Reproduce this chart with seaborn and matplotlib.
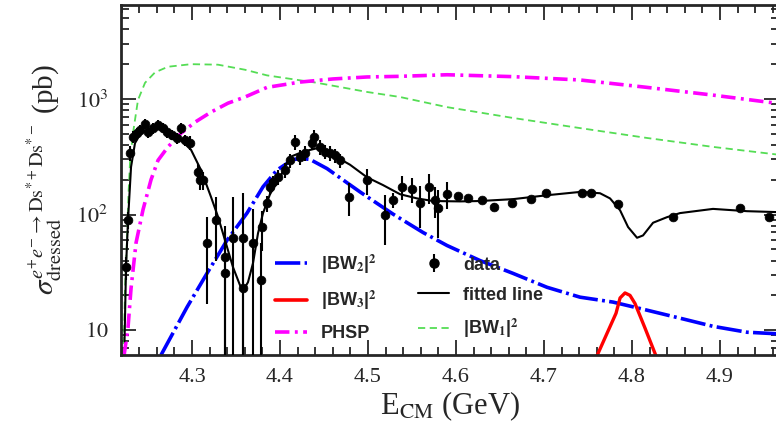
import numpy as np
import matplotlib
matplotlib.use("Agg")
import matplotlib.pyplot as plt
import seaborn as sns
from matplotlib.lines import Line2D
from matplotlib.ticker import MultipleLocator, FixedLocator, FixedFormatter

# data points (E in GeV, sigma in pb, asymmetric errors)
data_E = [4.2254, 4.2273, 4.2295, 4.2330, 4.2375, 4.2410, 4.2466, 4.2500, 4.2557, 4.2610,
          4.2670, 4.2716, 4.2770, 4.2830, 4.2875, 4.2920, 4.2977, 4.3070, 4.3090, 4.3125,
          4.3170, 4.3270, 4.3375, 4.3380, 4.3466, 4.3580, 4.3580, 4.3690, 4.3780, 4.3790,
          4.3850, 4.3890, 4.3920, 4.3980, 4.4057, 4.4110, 4.4170, 4.4227, 4.4280, 4.4360,
          4.4386, 4.4455, 4.4510, 4.4570, 4.4625, 4.4680, 4.4780, 4.4990, 4.5190, 4.5284,
          4.5390, 4.5500, 4.5590, 4.5690, 4.5760, 4.5800, 4.5900, 4.6020, 4.6140, 4.6300,
          4.6430, 4.6636, 4.6850, 4.7023, 4.7430, 4.7534, 4.7840, 4.8466, 4.9227, 4.9557]
data_sigma = [35, 90, 340, 470, 505, 540, 610, 515, 560, 595,
              560, 515, 490, 460, 560, 440, 420, 233, 198, 198,
              57, 90, 43, 31, 63, 63, 23, 57, 27, 78,
              126, 174, 192, 211, 243, 295, 425, 315, 340, 420,
              470, 385, 350, 340, 327, 295, 142, 198, 100, 133,
              174, 166, 126, 174, 133, 113, 151, 145, 138, 133,
              117, 126, 136, 153, 153, 153, 123, 95, 114, 95]
data_err_lo = [8, 15, 50, 55, 55, 60, 60, 55, 60, 60,
               55, 55, 50, 50, 60, 50, 60, 40, 35, 35,
               40, 50, 42, 30, 62, 62, 22, 56, 26, 30,
               20, 25, 25, 30, 35, 40, 60, 45, 50, 60,
               65, 55, 50, 50, 45, 40, 45, 50, 45, 20,
               40, 40, 50, 50, 40, 50, 40, 8, 8, 8,
               8, 8, 8, 8, 8, 8, 8, 6, 6, 6]
data_err_hi = [8, 15, 50, 55, 55, 60, 60, 55, 60, 60,
               55, 55, 50, 50, 60, 50, 60, 40, 35, 35,
               38, 52, 37, 40, 79, 90, 50, 55, 30, 30,
               20, 25, 25, 30, 35, 40, 60, 45, 50, 60,
               65, 55, 50, 50, 45, 40, 45, 50, 48, 20,
               40, 40, 50, 50, 40, 50, 40, 8, 8, 8,
               8, 8, 8, 8, 8, 8, 8, 6, 6, 6]

# fitted line
fit_E = [4.2233, 4.2250, 4.2273, 4.2307, 4.2352, 4.2420, 4.2534, 4.2648, 4.2761, 4.2875,
         4.2989, 4.3102, 4.3216, 4.3295, 4.3375, 4.3466, 4.3545, 4.3580, 4.3636, 4.3693,
         4.3750, 4.3807, 4.3886, 4.4000, 4.4114, 4.4261, 4.4420, 4.4602, 4.4795, 4.4989,
         4.5170, 4.5364, 4.5557, 4.5739, 4.6045, 4.6273, 4.6648, 4.7034, 4.7409, 4.7636,
         4.7750, 4.7864, 4.7955, 4.8057, 4.8125, 4.8239, 4.8398, 4.8545, 4.8920, 4.9307,
         4.9659]
fit_sigma = [8, 35, 90, 258, 415, 510, 560, 540, 490, 440,
             363, 243, 142, 96, 60, 35, 24.5, 22, 26, 38,
             69, 103, 150, 210, 315, 350, 375, 327, 270, 210,
             180, 150, 138, 131, 130, 131, 136, 147, 157, 153,
             138, 109, 78, 63, 66, 85, 95, 103, 112, 107,
             105]

# |BW1|^2
bw1_E = [4.2222, 4.2239, 4.2261, 4.2278, 4.2295, 4.2330, 4.2386, 4.2466, 4.2580, 4.2727,
         4.2989, 4.3295, 4.3602, 4.3852, 4.4420, 4.4989, 4.5364, 4.5898, 4.6648, 4.7409,
         4.8170, 4.8920, 4.9659]
bw1_sigma = [6, 23, 60, 150, 280, 510, 980, 1380, 1700, 1900,
             2000, 1980, 1790, 1600, 1380, 1150, 1040, 850, 685, 560,
             460, 385, 330]

# PHSP
phsp_E = [4.2227, 4.2273, 4.2307, 4.2364, 4.2443, 4.2534, 4.2614, 4.2727, 4.2875, 4.3034,
          4.3216, 4.3409, 4.3602, 4.3852, 4.4227, 4.4602, 4.4989, 4.5364, 4.5898, 4.6648,
          4.7409, 4.8170, 4.8920, 4.9659]
phsp_sigma = [6, 10.6, 23, 57, 110, 200, 295, 385, 505, 630,
              770, 920, 1040, 1260, 1400, 1490, 1550, 1570, 1620, 1560,
              1460, 1260, 1080, 915]

# |BW2|^2
bw2_E = [4.2648, 4.2943, 4.3170, 4.3398, 4.3625, 4.3807, 4.3966, 4.4148, 4.4261, 4.4341,
         4.4534, 4.4909, 4.5284, 4.5625, 4.5898, 4.6273, 4.6648, 4.7034, 4.7409, 4.7784,
         4.8170, 4.8545, 4.8920, 4.9307, 4.9659]
bw2_sigma = [6.1, 15.8, 31, 60, 103, 174, 243, 300, 305, 300,
             250, 157, 101, 70, 54, 40, 31, 23.5, 19.3, 17.5,
             14.9, 12.7, 10.8, 9.6, 9.3]

# |BW3|^2
bw3_E = [4.7580, 4.7614, 4.7716, 4.7818, 4.7864, 4.7920, 4.7977, 4.8034, 4.8148, 4.8261, 4.8290]
bw3_sigma = [5.5, 6.3, 9.4, 14, 19, 21, 20, 17, 10.4, 6.3, 5.5]

ytick_vals = [10, 100, 1000]
ytick_labels = [r'$10$', r'$10^2$', r'$10^3$']
xtick_vals = [4.3, 4.4, 4.5, 4.6, 4.7, 4.8, 4.9]

sns.set_style("ticks")
plt.rcParams['font.family'] = ['Liberation Serif', 'DejaVu Serif']
plt.rcParams['mathtext.fontset'] = 'stix'

fig = plt.figure(figsize=(7.76, 4.33), dpi=100)
ax = fig.add_axes([121 / 776, 78 / 433, 658 / 776, 350 / 433])

sty_bw2 = (0, (7, 1.2, 0.8, 1.2))
sty_phsp = (0, (4, 1.5, 0.8, 1.5))
sty_bw1 = (0, (4, 2.5))

sns.lineplot(x=bw1_E, y=bw1_sigma, ax=ax, color='#55dd55', linewidth=1.3,
             linestyle=sty_bw1, estimator=None, sort=False)
sns.lineplot(x=phsp_E, y=phsp_sigma, ax=ax, color='#ff00ff', linewidth=2.6,
             linestyle=sty_phsp, estimator=None, sort=False)
sns.lineplot(x=bw2_E, y=bw2_sigma, ax=ax, color='#0000ff', linewidth=2.6,
             linestyle=sty_bw2, estimator=None, sort=False)
sns.lineplot(x=bw3_E, y=bw3_sigma, ax=ax, color='#ff0000', linewidth=2.4,
             estimator=None, sort=False)
sns.lineplot(x=fit_E, y=fit_sigma, ax=ax, color='black', linewidth=1.5,
             estimator=None, sort=False)

ax.errorbar(data_E, data_sigma, yerr=[data_err_lo, data_err_hi], fmt='none',
            ecolor='black', elinewidth=1.5, capsize=0, zorder=4)
sns.scatterplot(x=data_E, y=data_sigma, ax=ax, color='black', s=40,
                edgecolor='black', linewidth=0.5, zorder=5)

ax.set_yscale('log')
ax.set_xlim(4.2193, 4.967)
ax.set_ylim(6.1, 6500)

ax.xaxis.set_major_locator(FixedLocator(xtick_vals))
ax.xaxis.set_minor_locator(MultipleLocator(0.02))
ax.yaxis.set_major_locator(FixedLocator(ytick_vals))
ax.yaxis.set_major_formatter(FixedFormatter(ytick_labels))
ax.tick_params(which='both', direction='in', top=True, right=True, width=1.3)
ax.tick_params(which='major', length=11, labelsize=16, pad=9)
ax.tick_params(which='minor', length=5.5)
for s in ax.spines.values():
    s.set_linewidth(2)

ax.set_xlabel(r'E$_{\mathrm{CM}}$ (GeV)', fontsize=22, labelpad=2)
ax.set_ylabel(r'$\sigma^{e^{+}e^{-}\rightarrow \mathrm{Ds}^{*+}\mathrm{Ds}^{*-}}_{\mathrm{dressed}}$ (pb)',
              fontsize=21, labelpad=8)

# legend handle for data: a marker with an error bar, placed outside the view
data_handle = ax.errorbar([5.5], [100], yerr=[[35], [35]], fmt='o', color='black',
                          markersize=6.5, elinewidth=1.5, capsize=0)

handles = [
    Line2D([], [], color='#0000ff', linewidth=2.6, linestyle=sty_bw2),
    Line2D([], [], color='#ff0000', linewidth=2.6),
    Line2D([], [], color='#ff00ff', linewidth=2.6, linestyle=sty_phsp),
    data_handle,
    Line2D([], [], color='black', linewidth=1.5),
    Line2D([], [], color='#55dd55', linewidth=1.3, linestyle=sty_bw1),
]
labels = [r'|BW$_\mathbf{2}$|$^\mathbf{2}$', r'|BW$_\mathbf{3}$|$^\mathbf{2}$', 'PHSP',
          'data', 'fitted line', r'|BW$_\mathbf{1}$|$^\mathbf{2}$']
leg = ax.legend(handles, labels, ncol=2, frameon=False, loc='upper left',
                bbox_to_anchor=(0.21, 0.34), handlelength=1.75, handletextpad=0.75,
                labelspacing=0.72, columnspacing=2.3,
                prop={'family': 'Liberation Sans', 'weight': 'bold', 'size': 13})

fig.savefig('out.png', dpi=100)
